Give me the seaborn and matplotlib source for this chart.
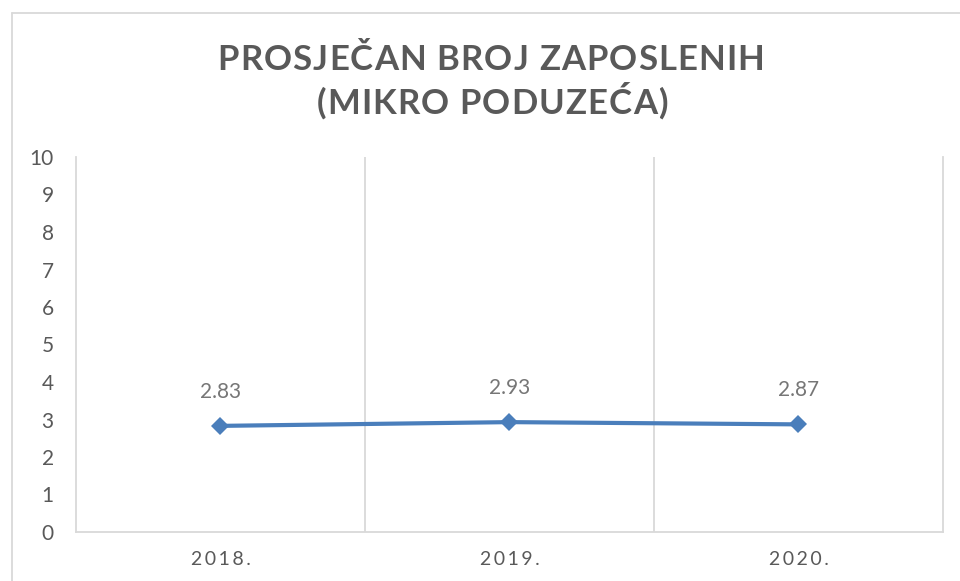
import matplotlib
matplotlib.use('Agg')
import matplotlib.pyplot as plt
from matplotlib.lines import Line2D
import seaborn as sns
import pandas as pd

years = ['2018.', '2019.', '2020.']
values = [2.83, 2.93, 2.87]
y_ticks = list(range(0, 11))
title_lines = ['PROSJEČAN BROJ ZAPOSLENIH', '(MIKRO PODUZEĆA)']

sns.set_theme(style='white')
plt.rcParams['font.family'] = ['Lato', 'DejaVu Sans']

W, H = 960, 581
fig = plt.figure(figsize=(W / 100, H / 100), dpi=100)
ax = fig.add_axes([76 / W, 49 / H, 867 / W, 375 / H])

df = pd.DataFrame({'year': years, 'value': values})
sns.lineplot(data=df, x='year', y='value', ax=ax, color='#4A7EBB',
             linewidth=3.0, marker='D', markersize=9.5, markeredgewidth=0,
             sort=False)

ax.set_xlim(-0.5, len(years) - 0.5)
ax.set_ylim(0, 10)
ax.set_yticks(y_ticks)
ax.set_yticklabels([str(t) for t in y_ticks])
ax.set_xticks(range(len(years)))
ax.set_xticklabels(['\u2009'.join(list(y)) for y in years])
ax.set_xticks([i + 0.5 for i in range(len(years) - 1)], minor=True)
ax.grid(False)
ax.grid(which='minor', axis='x', color='#D9D9D9', linewidth=1.3)
ax.tick_params(axis='both', which='both', length=0)
ax.tick_params(axis='y', pad=16, labelsize=15, labelcolor='#595959')
ax.tick_params(axis='x', pad=14, labelsize=14, labelcolor='#595959')
ax.set_xlabel('')
ax.set_ylabel('')
for side in ['left', 'bottom', 'right']:
    ax.spines[side].set_visible(True)
    ax.spines[side].set_color('#D9D9D9')
    ax.spines[side].set_linewidth(1.3)
ax.spines['top'].set_visible(False)

for i, v in enumerate(values):
    ax.annotate(f'{v:.2f}', (i, v), xytext=(0, 24.5), textcoords='offset points',
                ha='center', va='center', fontsize=15, color='#767676')

# figure border (left and top visible)
fig.add_artist(Line2D([12 / W, 12 / W], [0, 1 - 13 / H], transform=fig.transFigure,
                      color='#D9D9D9', linewidth=1.3))
fig.add_artist(Line2D([12 / W, 1], [1 - 13 / H, 1 - 13 / H], transform=fig.transFigure,
                      color='#D9D9D9', linewidth=1.3))

# letter-spaced title
renderer = fig.canvas.get_renderer()
tsize = 25
tkw = dict(fontsize=tsize, fontweight='bold', color='#595959')


def char_widths(s):
    ws = []
    for ch in s:
        if ch == ' ':
            ws.append(tsize * 0.25 * 100 / 72)
            continue
        t = fig.text(0, 0, ch, **tkw)
        ws.append(t.get_window_extent(renderer).width)
        t.remove()
    return ws


def draw_spaced(s, xc_px, base_px, spacing):
    ws = char_widths(s)
    total = sum(ws) + spacing * (len(s) - 1)
    x = xc_px - total / 2
    for ch, w in zip(s, ws):
        if ch != ' ':
            fig.text(x / W, 1 - base_px / H, ch, ha='left', va='baseline', **tkw)
        x += w + spacing


w1 = char_widths(title_lines[0])
spacing = (547 - sum(w1)) / (len(title_lines[0]) - 1)
draw_spaced(title_lines[0], 491, 70, spacing)
draw_spaced(title_lines[1], 492, 114, spacing)

fig.savefig('out.png', dpi=100)
